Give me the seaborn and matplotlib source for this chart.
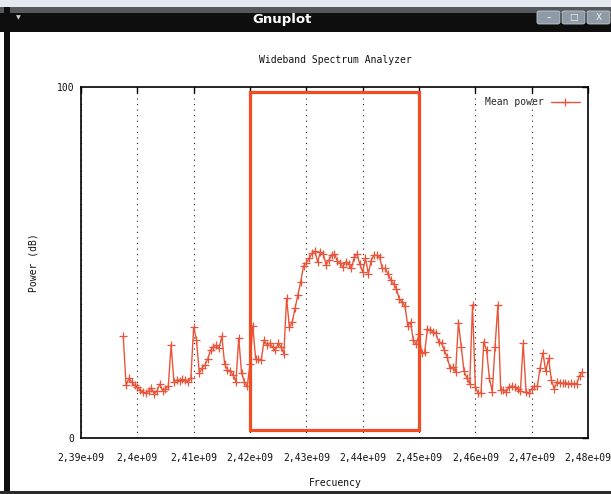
import numpy as np
import pandas as pd
import matplotlib
matplotlib.use("Agg")
import matplotlib.pyplot as plt
import seaborn as sns
from matplotlib.patches import Rectangle, FancyBboxPatch
from matplotlib.ticker import FixedLocator, FixedFormatter

# ---------------- data ----------------
freq_start_hz = 2.3975e9
freq_step_hz = 0.5e6
mean_power_db = [
    29, 15, 17, 16, 15, 14.5, 13.7, 13, 12.7, 13.5,
    14.2, 12.5, 13.5, 15.4, 13.5, 14, 14.8, 26.5, 16, 16.5,
    16.3, 16.7, 16.5, 16, 17, 31.5, 28, 18.5, 20, 20.8,
    22.5, 25, 26, 26.5, 25.5, 29, 21, 19.5, 19, 18,
    16, 28.5, 18.5, 16, 14.7, 21, 32, 22.5, 22.4, 22.2,
    27.9, 26.5, 27, 26, 25, 27, 26, 24, 39.8, 31.5,
    33, 37, 40.7, 44.5, 49, 49.9, 51.2, 52.6, 53.3, 50.2,
    53, 52.5, 49.3, 50.7, 52, 52.4, 50.5, 49.8, 48.8, 50.2,
    49.7, 48.3, 51.5, 52.4, 49.5, 47.3, 51.2, 46.8, 50.5, 52.1,
    52, 51.5, 48.3, 48.3, 46.8, 44.9, 43.9, 42.5, 39.6, 38.7,
    37.7, 32, 33, 27.8, 26.8, 29.5, 24.1, 24.4, 31, 30.8,
    30.3, 29.8, 27.4, 27, 25, 23, 20, 20.2, 18.9, 32.9,
    26, 19, 17, 15.5, 37.9, 14.4, 12.8, 12.7, 27.4, 25,
    17, 13.2, 26, 37.9, 13.7, 13.7, 13.2, 14.6, 14.8, 14.6,
    14, 13.3, 27, 13.2, 12.8, 14, 14.7, 14.7, 20, 24.3,
    19, 22.7, 16.5, 14, 16, 15.8, 15.6, 15.8, 15.4, 15.6,
    15.4, 15.5, 17.8, 18.9,
]
frequency_hz = freq_start_hz + freq_step_hz * np.arange(len(mean_power_db))

x_ticks = [2.39e9, 2.40e9, 2.41e9, 2.42e9, 2.43e9, 2.44e9, 2.45e9, 2.46e9, 2.47e9, 2.48e9]
x_tick_labels = ["2,39e+09", "2,4e+09", "2,41e+09", "2,42e+09", "2,43e+09",
                 "2,44e+09", "2,45e+09", "2,46e+09", "2,47e+09", "2,48e+09"]
y_ticks = [0, 100]
y_tick_labels = ["0", "100"]
highlight_freq = (2.42e9, 2.45e9)
highlight_power = (2.4, 98.5)

title_text = "Wideband Spectrum Analyzer"
x_label = "Frecuency"
y_label = "Power (dB)"
series_label = "Mean power"
window_title = "Gnuplot"

df = pd.DataFrame({"freq": frequency_hz, "power": mean_power_db})

# ---------------- style ----------------
sns.set_style("white")
plt.rcParams["font.family"] = ["DejaVu Sans Mono", "DejaVu Sans"]

line_color = "#e9553a"
rect_color = "#f04d25"

W, H = 611, 494
fig = plt.figure(figsize=(W / 100, H / 100), dpi=100)
fig.patch.set_facecolor("white")


def fx(px):
    return px / W


def fy(py):
    return 1 - py / H


# ---------------- window chrome ----------------
fig.patches.append(Rectangle((0, fy(7)), 1, 7 / H, transform=fig.transFigure,
                             facecolor="#e4e9ef", edgecolor="none", zorder=0))
fig.patches.append(Rectangle((0, fy(32)), 1, 25 / H, transform=fig.transFigure,
                             facecolor="#0e0e0e", edgecolor="none", zorder=0))
fig.patches.append(Rectangle((0, fy(13)), 1, 6 / H, transform=fig.transFigure,
                             facecolor="#55595e", edgecolor="none", zorder=0))
fig.patches.append(Rectangle((fx(4), 0), 6 / W, fy(7), transform=fig.transFigure,
                             facecolor="#0e0e0e", edgecolor="none", zorder=0))
fig.patches.append(Rectangle((0, 0), 1, 3 / H, transform=fig.transFigure,
                             facecolor="#2a2a2a", edgecolor="none", zorder=0))
fig.text(fx(282), fy(20), window_title, color="white", fontsize=9.5,
         fontweight="bold", family="DejaVu Sans", ha="center", va="center")
fig.text(fx(18), fy(18), "\u25BC", color="#d0d0d0", fontsize=4.5,
         family="DejaVu Sans", ha="center", va="center")
for bx, sym in [(537, "\u2013"), (562, "\u25A1"), (587, "X")]:
    fig.patches.append(FancyBboxPatch((fx(bx), fy(24)), 23 / W, 13 / H,
                                      boxstyle="round,pad=0,rounding_size=0.004",
                                      transform=fig.transFigure,
                                      facecolor="#8f9aa7", edgecolor="#c5ccd4",
                                      linewidth=0.6, zorder=1))
    fig.text(fx(bx + 11.5), fy(17.5), sym, color="#f2f4f6", fontsize=6.5,
             family="DejaVu Sans", ha="center", va="center", zorder=2)

# ---------------- plot ----------------
ax = fig.add_axes([fx(81), fy(438), 507 / W, 351 / H])
ax.set_facecolor("white")

sns.lineplot(data=df, x="freq", y="power", ax=ax, color=line_color,
             linewidth=1.0, marker="+", markersize=6, markeredgewidth=0.9,
             markeredgecolor=line_color, label=series_label, zorder=3)

ax.add_patch(Rectangle((highlight_freq[0], highlight_power[0]),
                       highlight_freq[1] - highlight_freq[0],
                       highlight_power[1] - highlight_power[0],
                       fill=False, edgecolor=rect_color, linewidth=2.3, zorder=4))

ax.set_xlim(x_ticks[0], x_ticks[-1])
ax.set_ylim(y_ticks[0], y_ticks[-1])
ax.xaxis.set_major_locator(FixedLocator(x_ticks))
ax.xaxis.set_major_formatter(FixedFormatter(x_tick_labels))
ax.yaxis.set_major_locator(FixedLocator(y_ticks))
ax.yaxis.set_major_formatter(FixedFormatter(y_tick_labels))
ax.tick_params(axis="both", direction="in", length=4, width=1.0, color="black",
               labelsize=7, top=True, right=True, labelcolor="#111111")
ax.tick_params(axis="x", pad=11)
ax.tick_params(axis="y", pad=5)
ax.grid(True, axis="x", color="#222222", linestyle=(0, (1, 4)), linewidth=0.8)
ax.grid(False, axis="y")
ax.set_axisbelow(True)
for sp in ax.spines.values():
    sp.set_color("black")
    sp.set_linewidth(1.2)
ax.set_xlabel("")
ax.set_ylabel("")

leg = ax.legend(loc="center right",
                bbox_to_anchor=((580 - 81) / 507, (438 - 102) / 351),
                frameon=False, markerfirst=False, handlelength=3.0,
                handletextpad=0.7, borderaxespad=0, borderpad=0, fontsize=7)

fig.text(fx(335), fy(60), title_text, fontsize=7, ha="center", va="center", color="#111111")
fig.text(fx(335), fy(483), x_label, fontsize=7, ha="center", va="center", color="#111111")
fig.text(fx(34), fy(263), y_label, fontsize=7, ha="center", va="center",
         rotation=90, color="#111111")

fig.savefig("out.png", dpi=100)
